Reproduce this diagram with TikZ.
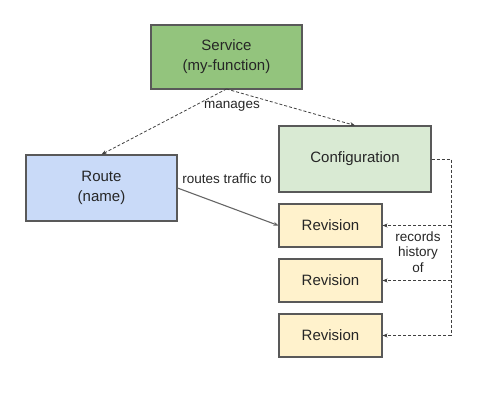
\documentclass[tikz,border=0pt]{standalone}
\usepackage{fontspec}
\setmainfont{Liberation Sans}
\usetikzlibrary{arrows.meta}
\definecolor{svc}{HTML}{93C47D}
\definecolor{rte}{HTML}{C9DAF8}
\definecolor{cfg}{HTML}{D9EAD3}
\definecolor{rev}{HTML}{FFF2CC}
\definecolor{edge}{HTML}{595959}
\tikzset{
  box/.style={draw=edge, line width=1.1pt, inner sep=0pt, align=center, font=\fontsize{15}{20}\selectfont, text=black!85},
  lbl/.style={font=\fontsize{13.5}{15.5}\selectfont, align=center, text=black!85},
  dsh/.style={draw=black!75, line width=0.8pt, dash pattern=on 3pt off 2pt, -{Stealth[length=5pt,width=4pt]}},
  sld/.style={draw=black!60, line width=1.1pt, -{Stealth[length=5pt,width=4pt]}}
}
\begin{document}
\begin{tikzpicture}[x=1pt,y=-1pt]
\useasboundingbox (0,0) rectangle (488,413);
\node[box, fill=svc, minimum width=151pt, minimum height=64pt] (svc) at (226.5,57) {Service\\(my-function)};
\node[box, fill=rte, minimum width=151pt, minimum height=66pt] (rte) at (101.5,188) {Route\\(name)};
\node[box, fill=cfg, minimum width=152pt, minimum height=66pt] (cfg) at (355,159) {Configuration};
\node[box, fill=rev, minimum width=103pt, minimum height=43pt] (r1) at (330.5,225.5) {Revision};
\node[box, fill=rev, minimum width=103pt, minimum height=43pt] (r2) at (330.5,280.5) {Revision};
\node[box, fill=rev, minimum width=103pt, minimum height=43pt] (r3) at (330.5,335.5) {Revision};
\coordinate (top) at (226.5,89);
\coordinate (c1) at (451,159);
\coordinate (k1) at (451,225.5);
\coordinate (k2) at (451,280.5);
\coordinate (k3) at (451,335.5);
\draw[dsh] (top) -- (rte.north);
\draw[dsh] (top) -- (cfg.north);
\node[lbl] (mg) at (232,106) {manages};
\draw[sld] (rte.east) -- (r1.west);
\node[lbl] (rt) at (227,179) {routes traffic to};
\draw[dsh, -] (cfg.east) -- (c1) -- (k3);
\draw[dsh] (k1) -- (r1.east);
\draw[dsh] (k2) -- (r2.east);
\draw[dsh] (k3) -- (r3.east);
\node[lbl] (rh) at (418,252) {records\\history\\of};
\end{tikzpicture}
\end{document}
